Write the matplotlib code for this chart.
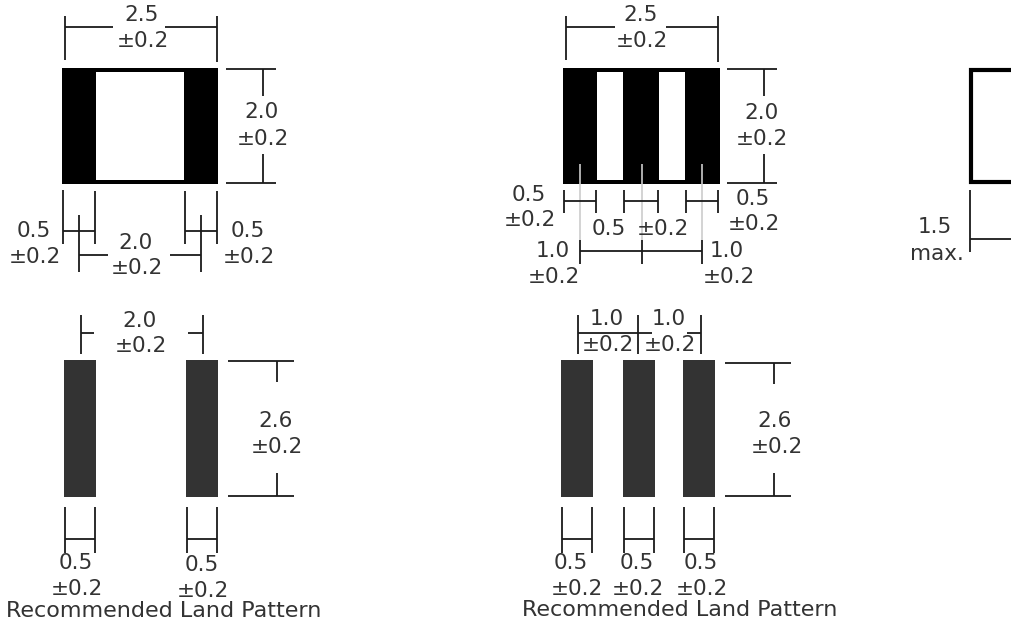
import matplotlib
matplotlib.use('Agg')
import matplotlib.pyplot as plt
from matplotlib.patches import Rectangle

# dimension labels, one list per part of the drawing: (x, y, text)
labels_top_left = [(142, 15, '2.5'), (143, 41, '±0.2'), (262, 112, '2.0'), (263, 139, '±0.2'),
                   (34, 231, '0.5'), (35, 257, '±0.2'), (136, 243, '2.0'), (137, 268, '±0.2'),
                   (248, 231, '0.5'), (249, 257, '±0.2')]
labels_top_mid = [(641, 15, '2.5'), (642, 41, '±0.2'), (761, 113, '2.0'), (762, 139, '±0.2'),
                  (529, 195, '0.5'), (530, 220, '±0.2'), (609, 229, '0.5'), (663, 229, '±0.2'),
                  (753, 199, '0.5'), (754, 224, '±0.2'), (553, 251, '1.0'), (554, 277, '±0.2'),
                  (727, 251, '1.0'), (729, 277, '±0.2')]
labels_side = [(935, 227, '1.5'), (937, 254, 'max.')]
labels_low_left = [(140, 321, '2.0'), (141, 346, '±0.2'), (276, 421, '2.6'), (277, 447, '±0.2'),
                   (76, 563, '0.5'), (77, 589, '±0.2'), (202, 565, '0.5'), (203, 591, '±0.2')]
labels_low_mid = [(607, 319, '1.0'), (669, 319, '1.0'), (608, 345, '±0.2'), (670, 345, '±0.2'),
                  (775, 421, '2.6'), (777, 447, '±0.2'),
                  (571, 563, '0.5'), (637, 563, '0.5'), (701, 563, '0.5'),
                  (577, 589, '±0.2'), (638, 589, '±0.2'), (702, 589, '±0.2')]
captions = [(6, 611, 'Recommended Land Pattern'), (522, 610, 'Recommended Land Pattern')]

# black bodies and white windows: (x0, y0, x1, y1)
bodies = [(62, 68, 218, 184), (563, 68, 720, 184)]
windows = [(96, 72, 184, 180), (597, 72, 623, 180), (659, 72, 685, 180)]
side_body = (971, 70, 1020, 182)
pads = [(64, 360, 96, 497), (186, 360, 218, 497),
        (561, 360, 593, 497), (623, 360, 655, 497), (683, 360, 715, 497)]

# dimension lines: (x0, y0, x1, y1)
lines_top_left = [(65, 16, 65, 60), (217, 16, 217, 62), (65, 27, 113, 27), (165, 27, 217, 27),
                  (226, 69, 276, 69), (226, 183, 276, 183), (263, 69, 263, 96), (263, 154, 263, 183),
                  (63, 190, 63, 244), (95, 191, 95, 244), (79, 215, 79, 272),
                  (185, 191, 185, 244), (217, 191, 217, 244), (201, 215, 201, 272),
                  (63, 231, 95, 231), (185, 231, 217, 231), (79, 255, 108, 255), (170, 255, 201, 255)]
lines_top_mid = [(566, 16, 566, 60), (718, 16, 718, 62), (566, 27, 615, 27), (666, 27, 718, 27),
                 (727, 69, 777, 69), (727, 183, 777, 183), (764, 69, 764, 96), (764, 154, 764, 183),
                 (564, 190, 564, 213), (596, 190, 596, 213), (624, 190, 624, 213),
                 (658, 190, 658, 213), (686, 190, 686, 213), (718, 190, 718, 213),
                 (564, 201, 596, 201), (624, 201, 658, 201), (686, 201, 718, 201),
                 (580, 240, 580, 264), (642, 240, 642, 264), (702, 240, 702, 264), (580, 251, 702, 251)]
lines_grey = [(580, 164, 580, 240), (642, 164, 642, 240), (702, 164, 702, 240)]
lines_side = [(970, 190, 970, 252), (970, 239, 1011, 239)]
lines_low_left = [(81, 315, 81, 354), (203, 315, 203, 354), (81, 333, 94, 333), (188, 333, 203, 333),
                  (228, 361, 294, 361), (228, 496, 294, 496), (277, 361, 277, 382), (277, 473, 277, 496),
                  (65, 507, 65, 553), (95, 507, 95, 553), (187, 507, 187, 553), (217, 507, 217, 553),
                  (65, 539, 95, 539), (187, 539, 217, 539)]
lines_low_mid = [(578, 315, 578, 354), (638, 315, 638, 354), (701, 315, 701, 354),
                 (578, 333, 652, 333), (687, 333, 701, 333),
                 (725, 363, 791, 363), (725, 496, 791, 496), (774, 363, 774, 384), (774, 473, 774, 496),
                 (562, 507, 562, 553), (592, 507, 592, 553), (624, 507, 624, 553),
                 (654, 507, 654, 553), (684, 507, 684, 553), (714, 507, 714, 553),
                 (562, 539, 592, 539), (624, 539, 654, 539), (684, 539, 714, 539)]


def box(ax, r, **kw):
    ax.add_patch(Rectangle((r[0], r[1]), r[2] - r[0], r[3] - r[1], **kw))


fig = plt.figure(figsize=(10.11, 6.24), dpi=100)
ax = fig.add_axes([0, 0, 1, 1])
ax.set_xlim(0, 1011)
ax.set_ylim(624, 0)
ax.axis('off')

for r in bodies:
    box(ax, r, facecolor='black', edgecolor='none')
for r in windows:
    box(ax, r, facecolor='white', edgecolor='none')
for r in pads:
    box(ax, r, facecolor='#333333', edgecolor='none')
box(ax, side_body, facecolor='white', edgecolor='black', linewidth=3, clip_on=True)

for seg in lines_grey:
    ax.plot([seg[0], seg[2]], [seg[1], seg[3]], color='#cccccc', lw=1.2, solid_capstyle='butt')
for group in (lines_top_left, lines_top_mid, lines_side, lines_low_left, lines_low_mid):
    for seg in group:
        ax.plot([seg[0], seg[2]], [seg[1], seg[3]], color='#1a1a1a', lw=1.3, solid_capstyle='butt')

for group in (labels_top_left, labels_top_mid, labels_side, labels_low_left, labels_low_mid):
    for x, y, s in group:
        ax.text(x, y, s, ha='center', va='center', fontsize=15.5, color='#333333', family='DejaVu Sans')
for x, y, s in captions:
    ax.text(x, y, s, ha='left', va='center', fontsize=16, color='#333333', family='DejaVu Sans')

fig.savefig('out.png', dpi=100)
